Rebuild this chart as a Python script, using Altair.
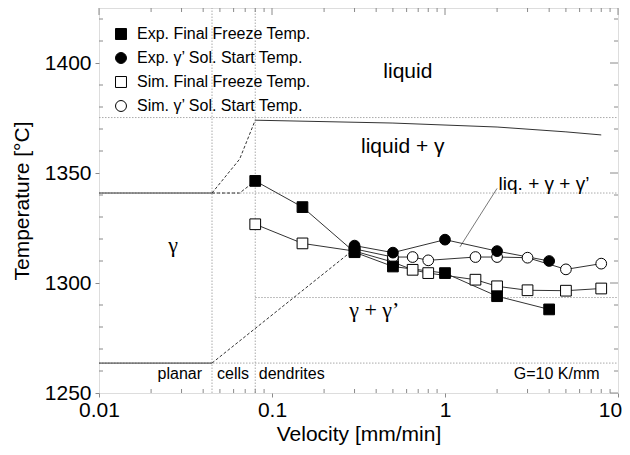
import altair as alt
import pandas as pd

# ---------------- data ----------------
series_names = ["Sim. Final Freeze Temp.", "Sim. \u03b3\u2019 Sol. Start Temp.",
                "Exp. Final Freeze Temp.", "Exp. \u03b3\u2019 Sol. Start Temp."]
legend_order = ["Exp. Final Freeze Temp.", "Exp. \u03b3\u2019 Sol. Start Temp.",
                "Sim. Final Freeze Temp.", "Sim. \u03b3\u2019 Sol. Start Temp."]

sim_ff_v = [0.08, 0.15, 0.3, 0.5, 0.65, 0.8, 1.5, 2, 3, 5, 8]
sim_ff_t = [1326.7, 1318.0, 1314.5, 1309.5, 1306.0, 1304.5, 1301.5, 1298.5, 1296.7, 1296.5, 1297.5]
sim_sol_v = [0.3, 0.5, 0.65, 0.8, 1.5, 2, 3, 5, 8]
sim_sol_t = [1315.5, 1311.8, 1311.8, 1310.3, 1311.8, 1311.8, 1311.5, 1306.2, 1308.8]
exp_ff_v = [0.08, 0.15, 0.3, 0.5, 1, 2, 4]
exp_ff_t = [1346.4, 1334.5, 1314.0, 1307.5, 1304.5, 1294.0, 1288.0]
exp_sol_v = [0.3, 0.5, 1, 2, 4]
exp_sol_t = [1317.0, 1313.8, 1319.7, 1314.5, 1310.0]

# liquidus (solid) in dendritic regime
liq_v = [0.08, 0.5, 2, 5, 8]
liq_t = [1374.0, 1372.7, 1370.9, 1368.7, 1367.3]

# dashed phase boundaries (group, v, T)
dash_group = ["a", "a", "a", "b", "b", "b", "c", "c"]
dash_v = [0.045, 0.065, 0.08, 0.045, 0.065, 0.08, 0.045, 0.3]
dash_t = [1340.9, 1356.3, 1374.0, 1340.9, 1340.9, 1346.4, 1263.6, 1315.5]

# solid black boundaries in planar regime
solid_v1 = [0.01, 0.01]
solid_v2 = [0.045, 0.045]
solid_t = [1340.9, 1263.6]

# gray dotted reference lines
ref_v1 = [0.01, 0.01, 0.08, 0.01, 0.045, 0.08]
ref_v2 = [10, 10, 10, 10, 0.045, 0.08]
ref_t1 = [1375.2, 1340.9, 1293.4, 1263.6, 1250, 1250]
ref_t2 = [1375.2, 1340.9, 1293.4, 1263.6, 1425, 1425]

# leader line for "liq. + γ + γ'"
lead_v = [2.0, 1.22]
lead_t = [1343.0, 1316.4]

# region labels
big_text = ["liquid", "liquid + \u03b3"]
big_v = [0.61, 0.57]
big_t = [1395.9, 1361.8]
greek_text = ["\u03b3", "\u03b3 + \u03b3\u2019"]
greek_v = [0.0268, 0.39]
greek_t = [1317.1, 1287.6]
liq3_text = ["liq. + \u03b3 + \u03b3\u2019"]
liq3_v = [2.04]
liq3_t = [1345.2]
regime_text = ["planar", "cells"]
regime_v = [0.0293, 0.0595]
regime_t = [1258.8, 1258.8]
dend_text = ["dendrites"]
dend_v = [0.0839]
dend_t = [1258.8]
g_text = ["G=10 K/mm"]
g_v = [7.83]
g_t = [1258.8]

# axis ticks
major_x = [0.01, 0.1, 1, 10]
minor_x = [0.02, 0.03, 0.04, 0.05, 0.06, 0.07, 0.08, 0.09,
           0.2, 0.3, 0.4, 0.5, 0.6, 0.7, 0.8, 0.9,
           2, 3, 4, 5, 6, 7, 8, 9]
major_y = [1250, 1300, 1350, 1400]
minor_y = [1260, 1270, 1280, 1290, 1310, 1320, 1330, 1340, 1360, 1370,
           1380, 1390, 1410, 1420]

# ---------------- frames ----------------
rows = []
for name, vs, ts in [(series_names[0], sim_ff_v, sim_ff_t),
                     (series_names[1], sim_sol_v, sim_sol_t),
                     (series_names[2], exp_ff_v, exp_ff_t),
                     (series_names[3], exp_sol_v, exp_sol_t)]:
    for v, t in zip(vs, ts):
        rows.append({"series": name, "v": v, "T": t})
pts = pd.DataFrame(rows)

W, H = 519, 385
XD = [0.01, 10]
YD = [1250, 1425]
xs = alt.Scale(type="log", domain=XD, nice=False)
ys = alt.Scale(domain=YD, nice=False, zero=False)
GRAY = "#8a8a8a"

xenc = alt.X("v:Q", scale=xs, axis=alt.Axis(
    values=major_x, format="~g", title="Velocity [mm/min]", labelFontSize=21,
    titleFontSize=21, titleFontWeight="normal", tickSize=4, labelPadding=2,
    titlePadding=3, tickColor=GRAY, domain=False, grid=False, labelColor="black",
    labelFlush=False, titleColor="black",
    labelOffset={"condition": {"test": "datum.value >= 10", "value": -8}, "value": 0}))
yenc = alt.Y("T:Q", scale=ys, axis=alt.Axis(
    values=major_y, format="d", title="Temperature [\u00b0C]", labelFontSize=21,
    titleFontSize=21, titleFontWeight="normal", tickSize=4, labelPadding=4,
    titlePadding=12, tickColor=GRAY, domain=False, grid=False, labelColor="black",
    labelFlush=False, titleColor="black"))

base = alt.Chart(pts)

ref_df = pd.DataFrame({"v": ref_v1, "v2": ref_v2, "T": ref_t1, "T2": ref_t2})
ref = alt.Chart(ref_df).mark_rule(color="#aaaaaa", strokeWidth=1, strokeDash=[1.5, 1.5]).encode(
    x=xenc, x2="v2:Q", y=yenc, y2="T2:Q")

solid_df = pd.DataFrame({"v": solid_v1, "v2": solid_v2, "T": solid_t})
solid = alt.Chart(solid_df).mark_rule(color="#333333", strokeWidth=1).encode(
    x=alt.X("v:Q", scale=xs), x2="v2:Q", y=alt.Y("T:Q", scale=ys))

dash_df = pd.DataFrame({"g": dash_group, "v": dash_v, "T": dash_t})
dashed = alt.Chart(dash_df).mark_line(color="#333333", strokeWidth=1, strokeDash=[3, 2]).encode(
    x=alt.X("v:Q", scale=xs), y=alt.Y("T:Q", scale=ys), detail="g:N")

liq_df = pd.DataFrame({"v": liq_v, "T": liq_t})
liq = alt.Chart(liq_df).mark_line(color="#333333", strokeWidth=1).encode(
    x=alt.X("v:Q", scale=xs), y=alt.Y("T:Q", scale=ys))

lead_df = pd.DataFrame({"v": lead_v, "T": lead_t})
lead = alt.Chart(lead_df).mark_line(color="#555555", strokeWidth=0.8).encode(
    x=alt.X("v:Q", scale=xs), y=alt.Y("T:Q", scale=ys))

lines = base.mark_line(color="#333333", strokeWidth=1).encode(
    x=alt.X("v:Q", scale=xs), y=alt.Y("T:Q", scale=ys), detail="series:N", order="v:Q")

leg = alt.Legend(title=None, orient="none", legendX=14, legendY=18, labelFontSize=16,
                 labelFont="Liberation Sans", labelColor="black", symbolSize=120,
                 symbolStrokeColor="black", symbolStrokeWidth=1, rowPadding=8,
                 labelOffset=8, padding=0, symbolOpacity=1, labelLimit=0)
points = base.mark_point(filled=True, size=115, strokeWidth=1, opacity=1).encode(
    x=alt.X("v:Q", scale=xs), y=alt.Y("T:Q", scale=ys),
    shape=alt.Shape("series:N", scale=alt.Scale(domain=legend_order,
                    range=["square", "circle", "square", "circle"]), legend=leg),
    fill=alt.Fill("series:N", scale=alt.Scale(domain=legend_order,
                  range=["black", "black", "white", "white"]), legend=leg),
    stroke=alt.Stroke("series:N", scale=alt.Scale(domain=legend_order,
                      range=["black", "black", "black", "black"]), legend=leg),
)

def text_layer(txt, vv, tt, size, font="Liberation Sans", align="center"):
    df = pd.DataFrame({"txt": txt, "v": vv, "T": tt})
    return alt.Chart(df).mark_text(fontSize=size, font=font, align=align,
                                   baseline="middle", color="black").encode(
        x=alt.X("v:Q", scale=xs), y=alt.Y("T:Q", scale=ys), text="txt:N")

t1 = text_layer(big_text, big_v, big_t, 21)
t2 = text_layer(greek_text, greek_v, greek_t, 22, font="Liberation Serif")
t3 = text_layer(liq3_text, liq3_v, liq3_t, 19, align="left")
t4 = text_layer(regime_text, regime_v, regime_t, 16)
t5 = text_layer(dend_text, dend_v, dend_t, 16, align="left")
t6 = text_layer(g_text, g_v, g_t, 16, align="right")

# inner tick marks
def yticks(vals, x0, x1):
    df = pd.DataFrame({"T": vals})
    return alt.Chart(df).mark_rule(color=GRAY, strokeWidth=1).encode(
        y=alt.Y("T:Q", scale=ys), x=alt.value(x0), x2=alt.value(x1))

def xticks(vals, y0, y1):
    df = pd.DataFrame({"v": vals})
    return alt.Chart(df).mark_rule(color=GRAY, strokeWidth=1).encode(
        x=alt.X("v:Q", scale=xs), y=alt.value(y0), y2=alt.value(y1))

ticks = [
    yticks(minor_y, 0, 4),
    yticks(minor_y, W - 4, W),
    yticks(major_y, W - 8, W),
    xticks(minor_x, 0, 4),
    xticks(major_x, 0, 7),
    xticks(minor_x, H - 4, H),
]

axis_anchor = alt.Chart(pd.DataFrame({"v": [0.01], "T": [1250]})).mark_point(opacity=0).encode(
    x=xenc, y=yenc)

chart = alt.layer(axis_anchor, ref, solid, dashed, liq, lead, lines, points,
                  t1, t2, t3, t4, t5, t6, *ticks).properties(
    width=W, height=H, autosize="none",
    padding={"left": 91, "top": 0, "right": 4, "bottom": 54},
).configure_view(stroke=GRAY, strokeWidth=1.2).configure(
    font="Liberation Sans")

chart.save("out.html", embed_options={"renderer": "svg", "actions": False})
